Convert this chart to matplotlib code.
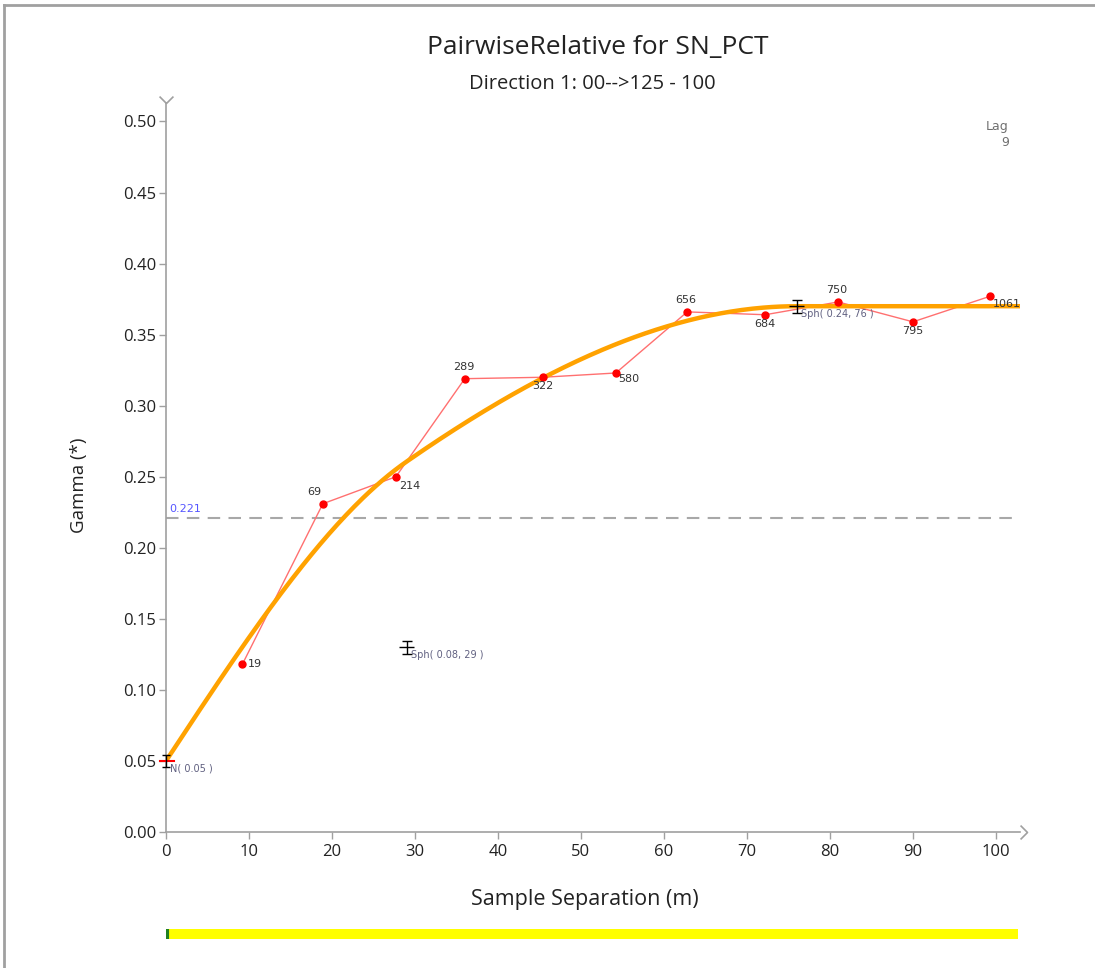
import numpy as np
import matplotlib.pyplot as plt
from matplotlib.lines import Line2D
from matplotlib.path import Path

# Experimental variogram points
lag_dist = [9.2, 18.9, 27.7, 36.0, 45.4, 54.2, 62.8, 72.2, 81.0, 90.0, 99.3]
gamma = [0.118, 0.231, 0.250, 0.319, 0.320, 0.323, 0.366, 0.364, 0.373, 0.359, 0.377]
pairs = [19, 69, 214, 289, 322, 580, 656, 684, 750, 795, 1061]

# Model: nugget + two spherical structures (sill, range)
nugget = 0.05
structures = [(0.08, 29), (0.24, 76)]
ref_line = 0.221

x_max = 102.9
y_max = 0.513

# label offsets in points (dx, dy, ha, va) for pair counts
label_offsets = [(4, 0, 'left', 'center'), (-6, 5, 'center', 'bottom'),
                 (2, -3, 'left', 'top'), (-1, 5, 'center', 'bottom'),
                 (0, -3, 'center', 'top'), (2, -1, 'left', 'top'),
                 (-1, 5, 'center', 'bottom'), (0, -3, 'center', 'top'),
                 (-1, 5, 'center', 'bottom'), (0, -3, 'center', 'top'),
                 (2, -2, 'left', 'top')]

plt.rcParams['font.family'] = ['Open Sans', 'DejaVu Sans']

fig = plt.figure(figsize=(10.95, 9.68), dpi=100)
ax = fig.add_axes([166/1095, (968-832)/968, (1020-166)/1095, (832-103)/968])

def spherical(h, c, a):
    r = np.minimum(h / a, 1.0)
    return c * (1.5 * r - 0.5 * r**3)

h = np.linspace(0, x_max, 400)
model = nugget + sum(spherical(h, c, a) for c, a in structures)

gray = '#a0a0a0'
ax.axhline(ref_line, color='#a8a8a8', lw=1.5, ls=(0, (6, 4)), zorder=1)
ax.text(0.4, ref_line + 0.003, f'{ref_line:.3f}', color='#5555ff', fontsize=8,
        family='DejaVu Sans', ha='left', va='bottom')

ax.plot(lag_dist, gamma, color='#ff7070', lw=1, zorder=2)
ax.plot(h, model, color='#ffa200', lw=3.2, zorder=3, solid_capstyle='butt')
ax.plot(lag_dist, gamma, 'o', color='red', ms=5, zorder=4)

for x, y, n, (dx, dy, ha, va) in zip(lag_dist, gamma, pairs, label_offsets):
    ax.annotate(str(n), (x, y), xytext=(dx, dy), textcoords='offset points',
                ha=ha, va=va, fontsize=8, color='#333333', family='DejaVu Sans', zorder=5)

# structure markers
cum = nugget
for c, a in structures:
    cum += c
    ax.errorbar(a, cum, yerr=0.0045, color='black', lw=1, capsize=3.5, capthick=1, zorder=6)
    ax.errorbar(a, cum, xerr=0.9, color='black', lw=1, capsize=0, zorder=6)
    ax.annotate(f'Sph( {c:.2f}, {a} )', (a, cum), xytext=(3, -2), textcoords='offset points',
                ha='left', va='top', fontsize=7, color='#606080', family='DejaVu Sans', zorder=6)

ax.plot([-0.7, 1.0], [nugget, nugget], color='red', lw=1.5, zorder=6, clip_on=False)
ax.errorbar(0, nugget, yerr=0.0045, color='black', lw=1, capsize=3, capthick=1,
            zorder=7, clip_on=False)
ax.annotate(f'N( {nugget:.2f} )', (0, nugget), xytext=(3, -2), textcoords='offset points',
            ha='left', va='top', fontsize=7, color='#606080', family='DejaVu Sans')

ax.text(0.987, 0.976, 'Lag\n9', transform=ax.transAxes, ha='right', va='top',
        fontsize=9, color='#707070', family='DejaVu Sans', linespacing=1.25)

ax.set_xlim(0, x_max)
ax.set_ylim(0, y_max)
ax.set_xticks(np.arange(0, 101, 10))
ax.set_yticks(np.arange(0, 0.51, 0.05))
ax.yaxis.set_major_formatter(plt.FuncFormatter(lambda v, p: f'{v:.2f}'))
ax.tick_params(colors=gray, labelcolor='#222222', labelsize=12, length=5, width=1)
ax.tick_params(axis='y', pad=2)
for s in ['top', 'right']:
    ax.spines[s].set_visible(False)
for s in ['left', 'bottom']:
    ax.spines[s].set_color(gray)
    ax.spines[s].set_linewidth(1.2)

# open chevrons at axis ends
v_mark = Path([(-1, 1), (0, 0), (1, 1)], [Path.MOVETO, Path.LINETO, Path.LINETO])
r_mark = Path([(-1, 1), (0, 0), (-1, -1)], [Path.MOVETO, Path.LINETO, Path.LINETO])
ax.plot([0], [1.0], transform=ax.transAxes, marker=v_mark, ms=10, mfc='none',
        mec=gray, mew=1.2, clip_on=False, ls='none')
ax.plot([1.008], [0], transform=ax.transAxes, marker=r_mark, ms=10, mfc='none',
        mec=gray, mew=1.2, clip_on=False, ls='none')

ax.set_xlabel('Sample Separation (m)', fontsize=15.5, color='#222222')
ax.set_ylabel('Gamma (*)', fontsize=13.5, color='#222222')
ax.xaxis.set_label_coords(0.49, -0.078)
ax.yaxis.set_label_coords(-0.091, 0.476)

fig.text(598/1095, 1 - 47/968, 'PairwiseRelative for SN_PCT', ha='center', va='center',
         fontsize=19, color='#222222')
fig.text(592/1095, 1 - 84/968, 'Direction 1: 00-->125 - 100', ha='center', va='center',
         fontsize=14.5, color='#222222')

# lag slider bar
bar = fig.add_axes([166/1095, (968-939)/968, (1018-166)/1095, 10/968])
bar.set_facecolor('#ffff00')
bar.set_xticks([])
bar.set_yticks([])
for s in bar.spines.values():
    s.set_visible(False)
bar.axvline(0.0015, color='#208020', lw=3)
bar.set_xlim(0, 1)

# window border
fig.add_artist(Line2D([4/1095, 1], [1 - 5/968, 1 - 5/968], color='#a0a0a0', lw=2))
fig.add_artist(Line2D([4/1095, 4/1095], [0, 1 - 5/968], color='#a0a0a0', lw=2))

fig.savefig('out.png', dpi=100)
